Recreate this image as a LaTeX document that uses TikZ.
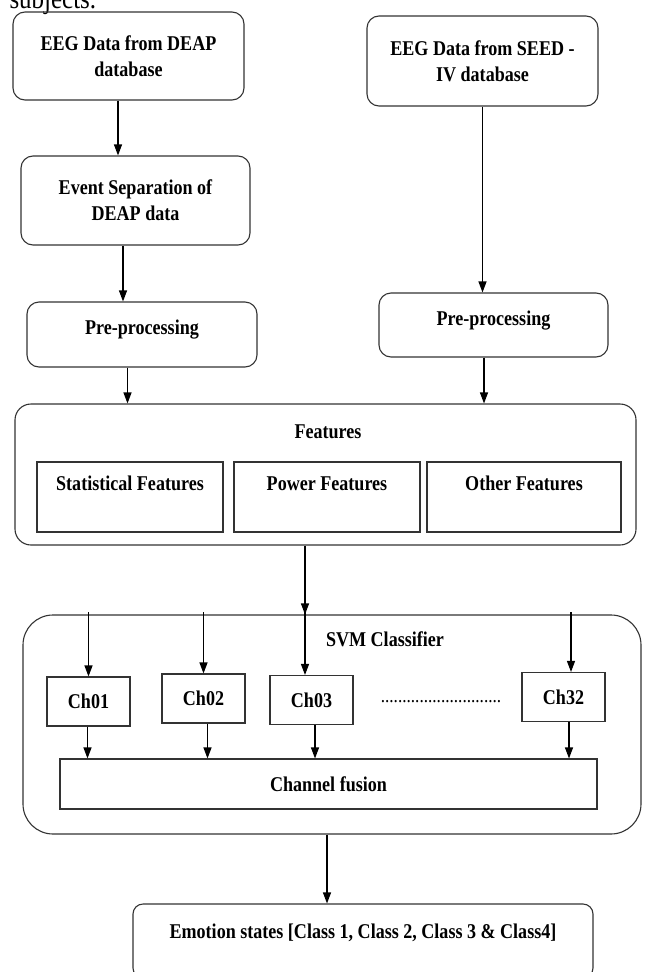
\documentclass[tikz,border=0pt]{standalone}
\usepackage{fontspec}
\setmainfont{Liberation Serif}[FakeStretch=0.86]
\usetikzlibrary{arrows.meta}
\tikzset{
  blk/.style={draw=black!80, line width=1.1pt, inner sep=0pt, align=center,
    font=\bfseries\fontsize{21}{26}\selectfont},
  rblk/.style={blk, rounded corners=12pt},
  grp/.style={draw=black!80, line width=1.1pt, inner sep=0pt, rounded corners=#1},
  title/.style={font=\bfseries\fontsize{21}{26}\selectfont},
  lift/.style={text height=14pt, text depth=#1},
  arr/.style={-{Triangle[length=11pt,width=8pt]}, line width=1.1pt},
}

\begin{document}
\begin{tikzpicture}[x=1pt, y=-1pt]
  \useasboundingbox (0,0) rectangle (645,972);
  \node[anchor=base west, font=\fontsize{29}{32}\selectfont] (cut) at (6,8) {subjects.};

  % the two databases
  \node[rblk, minimum width=231pt, minimum height=88pt] (deap) at (128.5,56) {EEG Data from DEAP\\database};
  \node[rblk, minimum width=231pt, minimum height=90pt] (seed) at (482.5,61) {EEG Data from SEED -\\IV database};
  \node[rblk, minimum width=229pt, minimum height=89pt] (event) at (135.5,200.5) {Event Separation of\\DEAP data};
  \node[rblk, lift=14pt, minimum width=230pt, minimum height=65pt] (pre1) at (142,334.5) {Pre-processing};
  \node[rblk, lift=14pt, minimum width=229pt, minimum height=64pt] (pre2) at (493.5,325) {Pre-processing};

  % features
  \node[grp=16pt, minimum width=621pt, minimum height=141pt] (feat) at (325.5,474.5) {};
  \node[title] (feattitle) at (328,432) {Features};
  \node[blk, lift=28pt, minimum width=186pt, minimum height=70pt] (stat) at (130,497) {Statistical Features};
  \node[blk, lift=28pt, minimum width=186pt, minimum height=70pt] (power) at (327,497) {Power Features};
  \node[blk, lift=28pt, minimum width=194pt, minimum height=70pt] (other) at (524,497) {Other Features};

  % classifier
  \node[grp=30pt, minimum width=618pt, minimum height=219pt] (svm) at (332,724.5) {};
  \node[title] (svmtitle) at (385,639) {SVM Classifier};
  \node[blk, minimum width=83pt, minimum height=49pt] (ch01) at (88.5,701.5) {Ch01};
  \node[blk, minimum width=83pt, minimum height=49pt] (ch02) at (203.5,698.5) {Ch02};
  \node[blk, minimum width=83pt, minimum height=49pt] (ch03) at (311.5,700) {Ch03};
  \node[blk, minimum width=83pt, minimum height=49pt] (ch32) at (563.5,697) {Ch32};
  \node[anchor=base, font=\fontsize{20}{26}\selectfont] (dots) at (441,702) {............................};
  \node[blk, minimum width=537pt, minimum height=50pt] (fusion) at (328.5,784) {Channel fusion};

  \node[rblk, rounded corners=10pt, lift=19.4pt, minimum width=460pt, minimum height=74pt] (emo) at (363,941)
    {Emotion states [Class 1, Class 2, Class 3 \& Class4]};

  % arrows
  \draw[arr] ([xshift=-10.5pt]deap.south) -- ([xshift=-10.5pt]deap.south |- event.north);
  \draw[arr] ([xshift=-12.5pt]event.south) -- ([xshift=-12.5pt]event.south |- pre1.north);
  \draw[arr] ([xshift=-14.5pt]pre1.south) -- ([xshift=-14.5pt]pre1.south |- feat.north);
  \draw[arr] (seed.south) -- (seed.south |- pre2.north);
  \draw[arr] ([xshift=-9.5pt]pre2.south) -- ([xshift=-9.5pt]pre2.south |- feat.north);
  \draw[arr] ([xshift=-20.5pt]feat.south) -- ([xshift=-20.5pt]feat.south |- svm.north);
  \foreach \c/\dx in {ch01/0, ch02/0, ch03/-6.5, ch32/7.5}
    \draw[arr] ([xshift=\dx pt, yshift=2pt]\c.north |- svm.north) -- ([xshift=\dx pt]\c.north);
  \foreach \c/\dx in {ch01/-1, ch02/4, ch03/3.5, ch32/5.5}
    \draw[arr] ([xshift=\dx pt]\c.south) -- ([xshift=\dx pt]\c.south |- fusion.north);
  \draw[arr] ([xshift=-5pt]svm.south) -- ([xshift=-5pt]svm.south |- emo.north);
\end{tikzpicture}
\end{document}
